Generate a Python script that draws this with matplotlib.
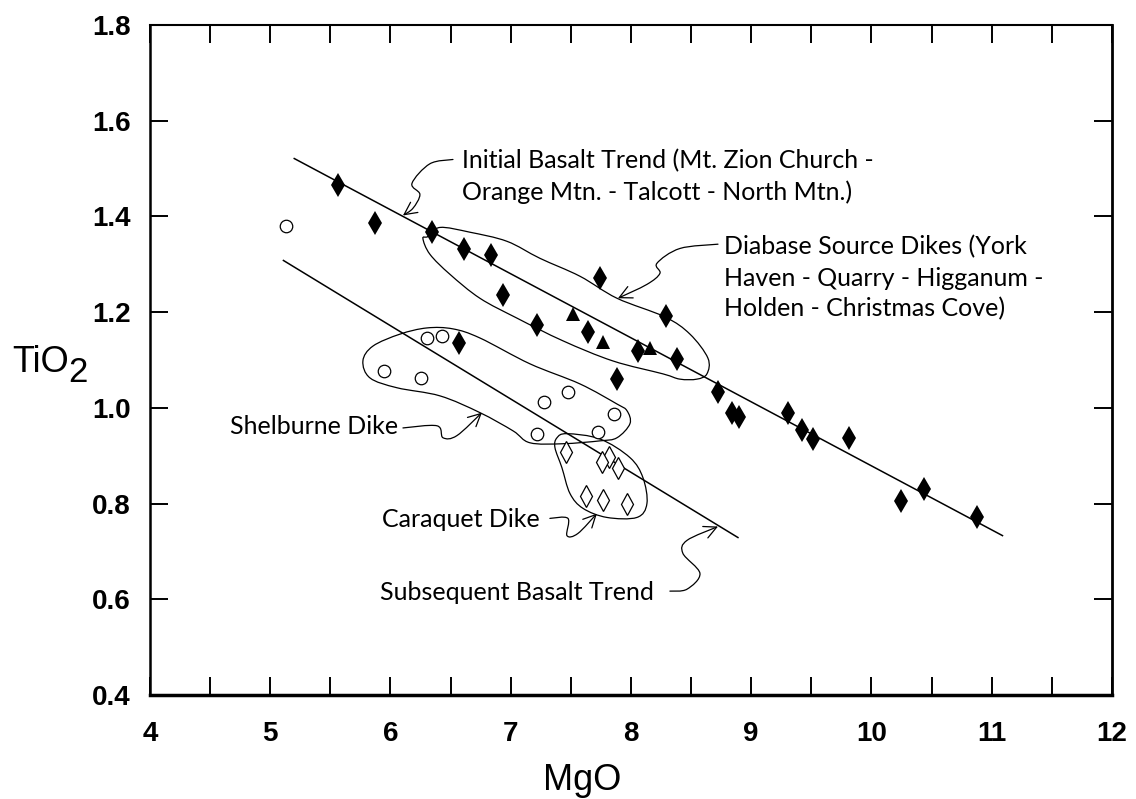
import matplotlib
matplotlib.use('Agg')
import matplotlib.pyplot as plt
import numpy as np
from matplotlib.path import Path
from matplotlib.patches import PathPatch, FancyArrowPatch

# MgO vs TiO2 values
initial_mgo = [5.56, 5.87, 6.345, 6.61, 6.84, 6.94, 7.74, 7.22, 7.64, 8.29, 8.06, 8.38,
               7.88, 6.57, 8.72, 8.84, 8.90, 9.31, 9.42, 9.51, 9.81, 10.25, 10.44, 10.88]
initial_tio2 = [1.465, 1.387, 1.367, 1.331, 1.319, 1.235, 1.271, 1.173, 1.158, 1.192, 1.119, 1.102,
                1.060, 1.135, 1.033, 0.990, 0.981, 0.990, 0.954, 0.935, 0.9375, 0.806, 0.831, 0.771]

tri_mgo = [7.52, 7.77, 8.16]
tri_tio2 = [1.196, 1.137, 1.125]

shelburne_mgo = [5.13, 6.30, 6.43, 5.95, 6.25, 7.48, 7.28, 7.86, 7.73, 7.22]
shelburne_tio2 = [1.381, 1.146, 1.150, 1.077, 1.062, 1.033, 1.0125, 0.9875, 0.950, 0.946]

caraquet_mgo = [7.46, 7.82, 7.76, 7.89, 7.63, 7.77, 7.97]
caraquet_tio2 = [0.908, 0.898, 0.8875, 0.875, 0.815, 0.808, 0.800]

# trend lines (end points)
initial_trend_mgo = [5.20, 11.09]
initial_trend_tio2 = [1.521, 0.733]
subsequent_trend_mgo = [5.11, 8.89]
subsequent_trend_tio2 = [1.308, 0.729]

# hand drawn envelopes
diabase_env = [(6.312, 1.358), (6.412, 1.377), (6.661, 1.367), (6.969, 1.348), (7.243, 1.3125),
               (7.576, 1.275), (7.884, 1.229), (8.283, 1.190), (8.491, 1.154), (8.640, 1.104),
               (8.632, 1.071), (8.549, 1.060), (8.407, 1.060), (8.266, 1.071), (7.850, 1.098),
               (7.435, 1.140), (7.052, 1.1875), (6.744, 1.229), (6.495, 1.279), (6.328, 1.321),
               (6.270, 1.354)]
shelburne_env = [(6.079, 1.154), (6.304, 1.167), (6.520, 1.165), (6.744, 1.146), (7.160, 1.092),
                 (7.576, 1.050), (7.884, 1.008), (7.967, 0.994), (7.992, 0.967), (7.884, 0.9375),
                 (7.742, 0.931), (7.435, 0.925), (7.160, 0.927), (7.019, 0.952), (6.744, 0.990),
                 (6.412, 1.025), (6.054, 1.042), (5.830, 1.0625), (5.771, 1.098), (5.854, 1.129)]
caraquet_env = [(7.385, 0.9375), (7.468, 0.946), (7.742, 0.935), (7.992, 0.896), (8.100, 0.854),
                (8.133, 0.800), (8.050, 0.771), (7.800, 0.771), (7.601, 0.790), (7.493, 0.821),
                (7.426, 0.875), (7.368, 0.917)]

# squiggly leader lines, text end -> arrow tip
leaders = [
    [(6.520, 1.519), (6.328, 1.510), (6.179, 1.469), (6.245, 1.446), (6.187, 1.417), (6.104, 1.402)],
    [(8.724, 1.342), (8.407, 1.333), (8.216, 1.302), (8.241, 1.281), (8.133, 1.258), (7.892, 1.229)],
    [(6.104, 0.958), (6.387, 0.9625), (6.437, 0.9375), (6.553, 0.942), (6.761, 0.990)],
    [(7.326, 0.769), (7.476, 0.769), (7.468, 0.733), (7.559, 0.7375), (7.717, 0.779)],
    [(8.324, 0.617), (8.466, 0.621), (8.574, 0.654), (8.432, 0.696), (8.466, 0.723), (8.724, 0.752)],
]

labels = [
    (6.595, 1.500, 'Initial Basalt Trend (Mt. Zion Church -'),
    (6.595, 1.435, 'Orange Mtn. - Talcott - North Mtn.)'),
    (8.773, 1.321, 'Diabase Source Dikes (York'),
    (8.773, 1.254, 'Haven - Quarry - Higganum -'),
    (8.773, 1.192, 'Holden - Christmas Cove)'),
    (4.665, 0.946, 'Shelburne Dike'),
    (5.929, 0.750, 'Caraquet Dike'),
    (5.913, 0.598, 'Subsequent Basalt Trend'),
]


def smooth_path(pts, closed):
    # Catmull-Rom control points turned into cubic bezier segments
    p = np.array(pts, dtype=float)
    n = len(p)
    verts = [p[0]]
    codes = [Path.MOVETO]
    segs = n if closed else n - 1
    for i in range(segs):
        if closed:
            p0, p1, p2, p3 = p[(i - 1) % n], p[i], p[(i + 1) % n], p[(i + 2) % n]
        else:
            p0 = p[max(i - 1, 0)]
            p1 = p[i]
            p2 = p[i + 1]
            p3 = p[min(i + 2, n - 1)]
        c1 = p1 + (p2 - p0) / 6.0
        c2 = p2 - (p3 - p1) / 6.0
        verts += [c1, c2, p2]
        codes += [Path.CURVE4] * 3
    return Path(verts, codes)


fig = plt.figure(figsize=(11.36, 7.99), dpi=100)
ax = fig.add_axes([0.132, 0.1302, 0.8468, 0.8385])

ax.plot(initial_trend_mgo, initial_trend_tio2, color='black', lw=1.1)
ax.plot(subsequent_trend_mgo, subsequent_trend_tio2, color='black', lw=1.1)

for env in [diabase_env, shelburne_env, caraquet_env]:
    ax.add_patch(PathPatch(smooth_path(env, True), facecolor='none', edgecolor='black', lw=0.9))

for lead in leaders:
    ax.add_patch(FancyArrowPatch(path=smooth_path(lead, False), arrowstyle='->,head_length=0.9,head_width=0.45',
                                 mutation_scale=10, color='black', lw=0.9, transform=ax.transData))

ax.plot(initial_mgo, initial_tio2, 'd', color='black', ms=12.5, mew=0, ls='none')
ax.plot(tri_mgo, tri_tio2, '^', color='black', ms=10, mew=0, ls='none')
ax.plot(shelburne_mgo, shelburne_tio2, 'o', mfc='white', mec='black', ms=9, mew=0.9, ls='none')
ax.plot(caraquet_mgo, caraquet_tio2, 'd', mfc='white', mec='black', ms=11, mew=0.9, ls='none')

for x, y, s in labels:
    ax.text(x, y, s, fontsize=18, family='Lato', ha='left', va='baseline')

ax.set_xlim(4, 12)
ax.set_ylim(0.4, 1.8)
ax.set_xticks(np.arange(4, 12.01, 1))
ax.set_xticks(np.arange(4.5, 12, 1), minor=True)
ax.set_yticks(np.arange(0.4, 1.81, 0.2))
ax.set_xticklabels([str(v) for v in range(4, 13)])
ax.set_yticklabels(['%.1f' % v for v in np.arange(0.4, 1.81, 0.2)])
ax.tick_params(which='both', direction='in', length=13, width=1.4, top=True, right=True)
ax.tick_params(axis='x', which='major', pad=19)
ax.tick_params(axis='y', which='major', pad=14)
for lab in ax.get_xticklabels() + ax.get_yticklabels():
    lab.set_fontfamily('Liberation Sans')
    lab.set_fontweight('bold')
    lab.set_fontsize(20)

ax.spines['left'].set_linewidth(1.8)
ax.spines['bottom'].set_linewidth(2.5)
ax.spines['top'].set_linewidth(1.5)
ax.spines['right'].set_linewidth(2.0)

ax.text(0.449, -0.142, 'MgO', transform=ax.transAxes, fontsize=26, family='Liberation Sans',
        ha='center', va='baseline')
ax.text(-0.1435, 0.482, 'TiO', transform=ax.transAxes, fontsize=26, family='Liberation Sans',
        ha='left', va='baseline')
ax.text(-0.085, 0.467, '2', transform=ax.transAxes, fontsize=25, family='Liberation Sans',
        ha='left', va='baseline')

fig.savefig('out.png', dpi=100)
